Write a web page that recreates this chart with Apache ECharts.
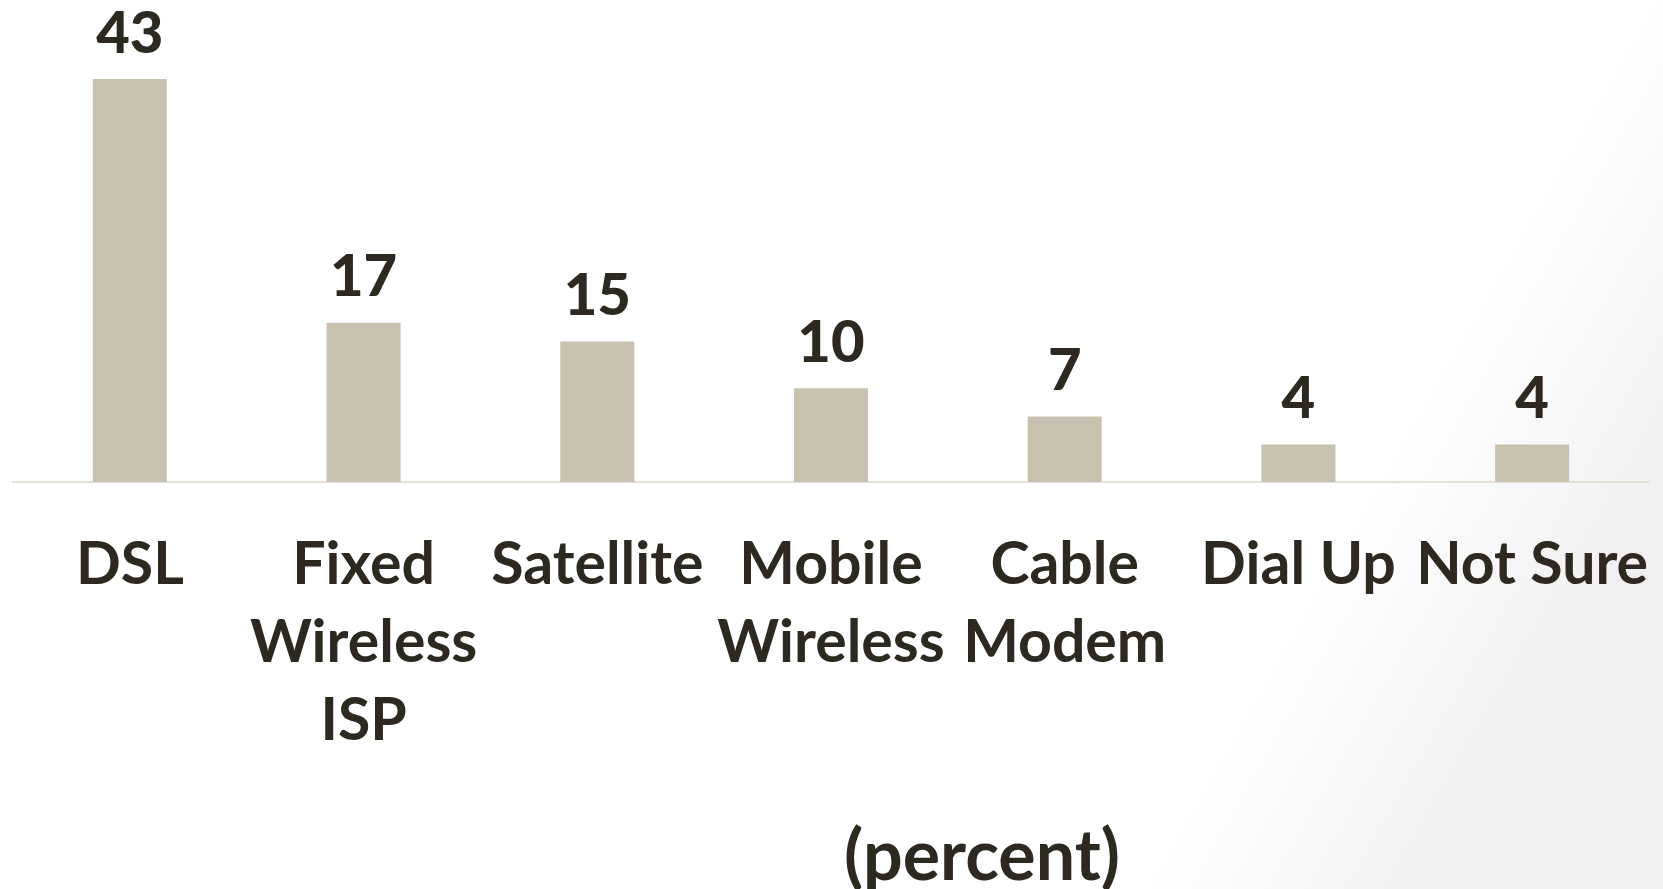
<!DOCTYPE html>
<html><head><meta charset="utf-8">
<script src="https://cdn.jsdelivr.net/npm/echarts@6/dist/echarts.min.js"></script>
<style>html,body{margin:0;padding:0;background:#fff}#c{width:1663px;height:889px}</style>
</head><body><div id="c"></div>
<script>
const categories = ['DSL', 'Fixed\nWireless\nISP', 'Satellite', 'Mobile\nWireless', 'Cable\nModem', 'Dial Up', 'Not Sure'];
const values = [43, 17, 15, 10, 7, 4, 4];
const unitLabel = '(percent)';

const chart = echarts.init(document.getElementById('c'));
const FONT = 'Lato';
const TXT = '#2d2920';
chart.setOption({
  backgroundColor: new echarts.graphic.LinearGradient(0.86, 0.45, 1, 0.6, [
    {offset: 0, color: '#ffffff'}, {offset: 1, color: '#efefef'}
  ]),
  animation: false,
  grid: {left: 13, right: 14, top: 13.5, bottom: 407},
  xAxis: {
    type: 'category', data: categories,
    axisLine: {lineStyle: {color: '#e4e1d8', width: 2}},
    axisTick: {show: false},
    axisLabel: {interval: 0, margin: 44, color: TXT, fontFamily: FONT, fontWeight: 'bold', fontSize: 59, lineHeight: 78}
  },
  yAxis: {type: 'value', min: 0, max: 50, show: false, splitLine: {show: false}},
  series: [{
    type: 'bar', data: values, barWidth: 74,
    itemStyle: {color: '#c8c1b0'},
    label: {show: true, position: 'top', distance: 16, color: TXT, fontFamily: FONT, fontWeight: 900, fontSize: 58, lineHeight: 58}
  }],
  graphic: [{
    type: 'text', x: 982, y: 822,
    style: {text: unitLabel, fill: TXT, font: 'bold 70px Lato', align: 'center', verticalAlign: 'top'}
  }]
});
</script></body></html>
